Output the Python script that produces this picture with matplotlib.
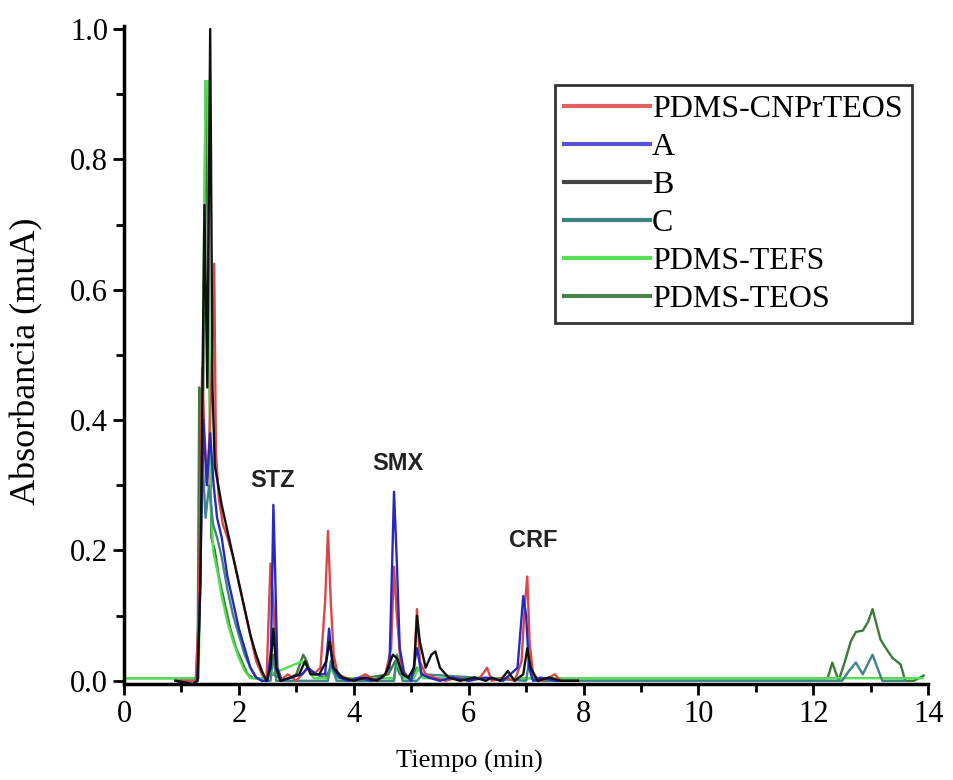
import matplotlib.pyplot as plt
from matplotlib.ticker import MultipleLocator

# PDMS-CNPrTEOS
red_x = [0.90, 1.25, 1.30, 1.36, 1.40, 1.45, 1.52, 1.57, 1.60, 1.65, 1.72, 1.80, 1.90, 2.00, 2.10, 2.20, 2.30, 2.40, 2.48,
         2.55, 2.60, 2.65, 2.72, 2.85, 3.00, 3.10, 3.20, 3.30, 3.42, 3.50, 3.55, 3.60, 3.65, 3.72, 3.85, 4.00, 4.20, 4.40,
         4.55, 4.65, 4.70, 4.75, 4.82, 4.95, 5.05, 5.10, 5.15, 5.25, 5.40, 5.60, 5.80, 6.00, 6.20, 6.32, 6.40, 6.60, 6.80,
         6.92, 6.98, 7.02, 7.06, 7.12, 7.25, 7.40, 7.50, 7.60, 7.90]
red_y = [0.0, 0.0, 0.10, 0.48, 0.38, 0.30, 0.45, 0.64, 0.35, 0.28, 0.24, 0.22, 0.19, 0.15, 0.11, 0.07, 0.03, 0.01, 0.0,
         0.18, 0.12, 0.02, 0.0, 0.01, 0.0, 0.01, 0.02, 0.01, 0.02, 0.12, 0.23, 0.12, 0.04, 0.01, 0.005, 0.0, 0.01, 0.0,
         0.01, 0.05, 0.175, 0.10, 0.02, 0.005, 0.02, 0.11, 0.03, 0.01, 0.005, 0.0, 0.005, 0.0, 0.005, 0.02, 0.0, 0.005, 0.0,
         0.03, 0.12, 0.16, 0.06, 0.01, 0.0, 0.005, 0.01, 0.0, 0.0]

# A
blue_x = [0.90, 1.20, 1.28, 1.32, 1.38, 1.44, 1.50, 1.56, 1.62, 1.70, 1.80, 1.90, 2.00, 2.10, 2.20, 2.30, 2.40, 2.50,
          2.56, 2.60, 2.63, 2.67, 2.75, 2.90, 3.10, 3.20, 3.35, 3.50, 3.57, 3.63, 3.75, 3.90, 4.10, 4.30, 4.50, 4.62,
          4.70, 4.75, 4.80, 4.88, 5.00, 5.10, 5.18, 5.30, 5.50, 5.70, 6.00, 6.30, 6.60, 6.85, 6.95, 7.00, 7.05, 7.12,
          7.25, 7.50, 7.90]
blue_y = [0.0, -0.005, 0.0, 0.12, 0.40, 0.30, 0.38, 0.30, 0.25, 0.22, 0.16, 0.12, 0.08, 0.05, 0.02, 0.005, 0.0, 0.0,
          0.05, 0.27, 0.17, 0.02, 0.0, 0.005, 0.01, 0.02, 0.01, 0.01, 0.08, 0.02, 0.005, 0.0, 0.005, 0.0, 0.005, 0.02,
          0.29, 0.18, 0.05, 0.01, 0.0, 0.05, 0.01, 0.005, 0.0, 0.005, 0.0, 0.005, 0.0, 0.02, 0.13, 0.10, 0.02, 0.0,
          0.005, 0.0, 0.0]

# B
black_x = [0.90, 1.20, 1.28, 1.33, 1.40, 1.45, 1.50, 1.54, 1.58, 1.62, 1.70, 1.80, 1.90, 2.00, 2.10, 2.20, 2.30, 2.40,
           2.48, 2.55, 2.60, 2.65, 2.72, 2.90, 3.05, 3.15, 3.25, 3.40, 3.52, 3.58, 3.65, 3.80, 4.00, 4.20, 4.40, 4.55,
           4.68, 4.75, 4.85, 4.95, 5.05, 5.10, 5.15, 5.25, 5.35, 5.42, 5.50, 5.65, 5.85, 6.10, 6.30, 6.40, 6.55, 6.68,
           6.80, 6.95, 7.02, 7.08, 7.20, 7.40, 7.60, 7.90]
black_y = [0.0, -0.005, 0.0, 0.15, 0.73, 0.45, 1.00, 0.45, 0.33, 0.31, 0.27, 0.23, 0.19, 0.15, 0.11, 0.07, 0.04, 0.015,
           0.0, 0.02, 0.08, 0.02, 0.0, 0.005, 0.01, 0.03, 0.01, 0.01, 0.03, 0.06, 0.02, 0.005, 0.0, 0.005, 0.0, 0.01,
           0.04, 0.035, 0.01, 0.005, 0.02, 0.10, 0.06, 0.02, 0.04, 0.045, 0.02, 0.005, 0.0, 0.005, 0.0, 0.005, 0.0, 0.015,
           0.0, 0.01, 0.05, 0.02, 0.0, 0.005, 0.0, 0.0]

# C
teal_x = [0.90, 1.25, 1.30, 1.36, 1.42, 1.48, 1.55, 1.62, 1.70, 1.80, 1.90, 2.00, 2.10, 2.20, 2.30, 2.40, 2.55, 2.60,
          2.65, 2.75, 3.00, 3.55, 3.60, 3.70, 4.70, 4.75, 4.85, 5.10, 5.20, 7.00, 7.05, 7.15, 8.00, 12.50, 12.62, 12.74,
          12.86, 13.03, 13.20, 13.60]
teal_y = [0.0, 0.0, 0.10, 0.35, 0.25, 0.30, 0.24, 0.22, 0.19, 0.14, 0.10, 0.07, 0.04, 0.02, 0.005, 0.0, 0.0, 0.04,
          0.0, 0.0, 0.0, 0.0, 0.03, 0.0, 0.0, 0.04, 0.0, 0.0, 0.01, 0.0, 0.03, 0.0, 0.0, 0.0, 0.015, 0.028,
          0.01, 0.04, 0.0, 0.0]

# PDMS-TEFS
lgreen_x = [0.0, 1.30, 1.36, 1.42, 1.46, 1.50, 1.55, 1.62, 1.70, 1.80, 1.90, 2.00, 2.10, 2.20, 2.40, 3.10, 3.20, 3.30,
            3.55, 3.60, 3.70, 4.70, 4.75, 4.85, 5.05, 5.12, 5.20, 13.90]
lgreen_y = [0.004, 0.004, 0.40, 0.92, 0.92, 0.30, 0.20, 0.17, 0.13, 0.09, 0.06, 0.035, 0.015, 0.004, 0.004, 0.03, 0.02,
            0.004, 0.004, 0.02, 0.004, 0.004, 0.03, 0.004, 0.004, 0.02, 0.004, 0.004]

# PDMS-TEOS
dgreen_x = [0.0, 1.28, 1.31, 1.34, 1.38, 1.42, 1.47, 1.52, 1.58, 1.65, 1.75, 1.85, 1.95, 2.05, 2.15, 2.25, 2.40, 2.60,
            2.80, 3.00, 3.12, 3.18, 3.25, 3.35, 3.50, 3.60, 3.70, 3.90, 4.20, 4.60, 4.72, 4.80, 5.00, 5.10, 5.20, 5.40,
            5.80, 6.40, 7.00, 12.25, 12.33, 12.44, 12.55, 12.65, 12.74, 12.86, 12.95, 13.03, 13.17, 13.30, 13.38, 13.52,
            13.60, 13.75, 13.92]
dgreen_y = [0.004, 0.004, 0.45, 0.35, 0.45, 0.92, 0.60, 0.22, 0.20, 0.16, 0.12, 0.08, 0.05, 0.03, 0.01, 0.004, 0.004,
            0.01, 0.0, 0.01, 0.04, 0.03, 0.01, 0.01, 0.004, 0.02, 0.005, 0.004, 0.004, 0.01, 0.03, 0.01, 0.004, 0.02,
            0.01, 0.004, 0.004, 0.004, 0.004, 0.004, 0.028, 0.0, 0.03, 0.06, 0.075, 0.077, 0.09, 0.11, 0.063, 0.045,
            0.035, 0.025, 0.0, 0.0, 0.008]

peak_names = ['STZ', 'SMX', 'CRF']
peak_x = [2.58, 4.76, 7.12]
peak_y = [0.29, 0.315, 0.197]

fig = plt.figure(figsize=(9.54, 7.8), dpi=100)
ax = fig.add_axes([0.130, 0.123, 0.843, 0.844])

ax.plot(dgreen_x, dgreen_y, color='#3a7a3a', lw=1.7, zorder=2)
ax.plot(lgreen_x, lgreen_y, color='#52e052', lw=1.7, zorder=2)
ax.plot(teal_x, teal_y, color='#3f8585', lw=1.7, zorder=3)
ax.plot(red_x, red_y, color='#d84848', lw=1.7, zorder=3)
ax.plot(blue_x, blue_y, color='#2828c0', lw=1.7, zorder=4)
ax.plot(black_x, black_y, color='#111111', lw=1.7, zorder=5)

# legend in the original order
handles = [
    plt.Line2D([], [], color='#e06060', lw=3),
    plt.Line2D([], [], color='#5555d0', lw=3),
    plt.Line2D([], [], color='#444444', lw=3),
    plt.Line2D([], [], color='#3f8080', lw=3),
    plt.Line2D([], [], color='#55e055', lw=3),
    plt.Line2D([], [], color='#4a804a', lw=3),
]
labels = ['PDMS-CNPrTEOS', 'A', 'B', 'C', 'PDMS-TEFS', 'PDMS-TEOS']
leg = ax.legend(handles, labels, loc='upper right', bbox_to_anchor=(0.98, 0.91),
                prop={'family': 'Liberation Serif', 'size': 23}, handlelength=2.7, handletextpad=0.05,
                labelspacing=0.27, borderpad=0.3, borderaxespad=0, fancybox=False, framealpha=1)
leg.get_frame().set_edgecolor('#333333')
leg.get_frame().set_linewidth(2)

for name, px, py in zip(peak_names, peak_x, peak_y):
    ax.text(px, py, name, ha='center', va='bottom', fontsize=17, family='Liberation Sans',
            weight='bold', color='#222222')

ax.set_xlim(0, 14)
ax.set_ylim(-0.005, 1.005)
ax.xaxis.set_major_locator(MultipleLocator(2))
ax.xaxis.set_minor_locator(MultipleLocator(1))
ax.yaxis.set_major_locator(MultipleLocator(0.2))
ax.yaxis.set_minor_locator(MultipleLocator(0.1))
ax.yaxis.set_major_formatter(plt.FuncFormatter(lambda v, p: f'{v:.1f}'))

for s in ['top', 'right']:
    ax.spines[s].set_visible(False)
for s in ['left', 'bottom']:
    ax.spines[s].set_linewidth(2.5)

ax.tick_params(which='major', direction='out', length=8, width=2, labelsize=22)
ax.tick_params(which='minor', direction='out', length=6, width=2)
for lab in ax.get_xticklabels() + ax.get_yticklabels():
    lab.set_family('Liberation Serif')

ax.set_xlabel('Tiempo (min)', fontsize=19, family='Liberation Serif')
ax.xaxis.set_label_coords(0.43, -0.1)
ax.set_ylabel('Absorbancia (muA)', fontsize=26, family='Liberation Serif')
ax.yaxis.set_label_coords(-0.1, 0.49)

fig.savefig('out.png', dpi=100)
